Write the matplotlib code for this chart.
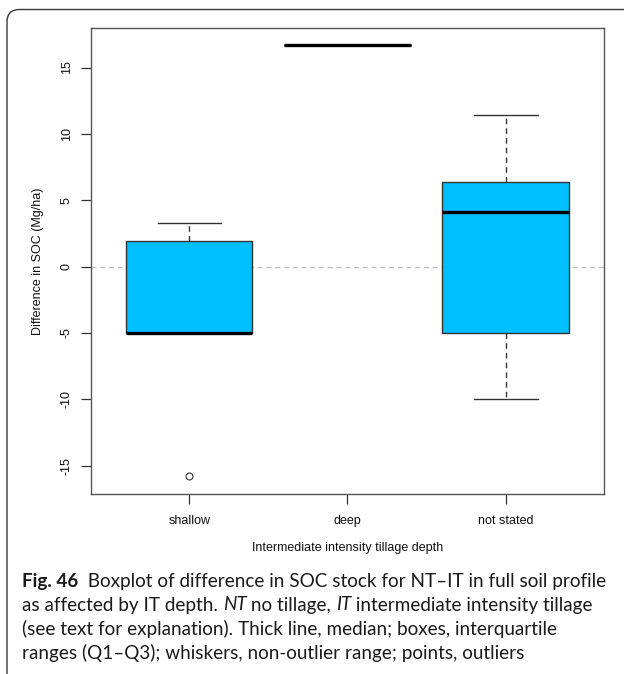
import matplotlib
matplotlib.use("Agg")
import matplotlib.pyplot as plt
from matplotlib.patches import FancyBboxPatch

# ---- data ----
categories = ["shallow", "deep", "not stated"]
q1 = [-5.0, 16.7, -5.0]
median = [-5.0, 16.7, 4.15]
q3 = [1.95, 16.7, 6.35]
whisker_low = [-5.0, 16.7, -10.0]
whisker_high = [3.25, 16.7, 11.4]
outliers = [[-15.8], [], []]
yticks = [-15, -10, -5, 0, 5, 10, 15]
ylabel = "Difference in SOC (Mg/ha)"
xlabel = "Intermediate intensity tillage depth"

W, H = 624, 674
fig = plt.figure(figsize=(W / 100, H / 100), dpi=100)

def fx(px):
    return px / W

def fy(py):
    return 1 - py / H

# rounded frame (only top-left visible)
frame = FancyBboxPatch((fx(7), fy(700)), fx(700), fy(9.5) - fy(700),
                       boxstyle="round,pad=0,rounding_size=0.02",
                       transform=fig.transFigure, fill=False,
                       edgecolor="#3a3a3a", lw=1.0, mutation_aspect=W / H)
fig.patches.append(frame)

ax = fig.add_axes([fx(91), fy(494), fx(604) - fx(91), fy(28) - fy(494)])

stats = []
for i, c in enumerate(categories):
    stats.append(dict(label=c, q1=q1[i], med=median[i], q3=q3[i],
                      whislo=whisker_low[i], whishi=whisker_high[i],
                      fliers=outliers[i]))

ax.axhline(0, color="#bbbbbb", lw=0.9, ls=(0, (4, 3)), zorder=0)

positions = list(range(1, len(categories) + 1))
ax.bxp(stats, positions=positions, widths=0.8, patch_artist=True,
       showfliers=True,
       boxprops=dict(facecolor="#00BFFF", edgecolor="#333333", lw=1.0),
       medianprops=dict(color="black", lw=2.4, solid_capstyle="butt"),
       whiskerprops=dict(color="#333333", lw=1.0, ls=(0, (4, 3))),
       capprops=dict(color="#333333", lw=1.0),
       capwidths=0.4,
       flierprops=dict(marker="o", markersize=5, markerfacecolor="none",
                       markeredgecolor="#333333", markeredgewidth=0.8))

ax.set_xlim(0.38, 3.62)
ax.set_ylim(-17.14, 17.98)
ax.set_yticks(yticks)
ax.set_yticklabels([str(t) for t in yticks], rotation=90, va="center")
ax.set_xticks(positions)
ax.set_xticklabels(categories)
for s in ax.spines.values():
    s.set_color("#555555")
    s.set_linewidth(1.0)
ax.tick_params(axis="both", length=7, width=0.9, color="#333333",
               labelsize=9, labelcolor="#111111", pad=6)
ax.tick_params(axis="x", pad=8)
for lab in ax.get_xticklabels() + ax.get_yticklabels():
    lab.set_fontfamily("Liberation Sans")

fig.text(fx(38), fy(261), ylabel, rotation=90, ha="center", va="center",
         fontsize=9, family="Liberation Sans", color="#111111")
fig.text(fx(348), fy(548), xlabel, ha="center", va="center",
         fontsize=9, family="Liberation Sans", color="#111111")

# ---- caption ----
cap_font = "Lato"
cap_size = 13.6
cap_lines = [
    [("Fig. 46", "bold", "normal"), ("  Boxplot of difference in SOC stock for NT\u2013IT in full soil profile", "normal", "normal")],
    [("as affected by IT depth. ", "normal", "normal"), ("NT", "normal", "italic"),
     (" no tillage, ", "normal", "normal"), ("IT", "normal", "italic"),
     (" intermediate intensity tillage", "normal", "normal")],
    [("(see text for explanation). Thick line, median; boxes, interquartile", "normal", "normal")],
    [("ranges (Q1\u2013Q3); whiskers, non-outlier range; points, outliers", "normal", "normal")],
]
line_y = [581, 605, 629, 653]

renderer = fig.canvas.get_renderer()

def run_width(s, weight, style):
    t1 = fig.text(0, 0, s + "|", fontsize=cap_size, family=cap_font,
                  weight=weight, style=style)
    t2 = fig.text(0, 0, "|", fontsize=cap_size, family=cap_font,
                  weight=weight, style=style)
    w = t1.get_window_extent(renderer).width - t2.get_window_extent(renderer).width
    t1.remove()
    t2.remove()
    return w

for runs, y in zip(cap_lines, line_y):
    x = 22.0
    for s, weight, style in runs:
        fig.text(fx(x), fy(y), s, fontsize=cap_size, family=cap_font,
                 weight=weight, style=style, va="center", ha="left",
                 color="#1a1a1a")
        x += run_width(s, weight, style)

fig.savefig("out.png", dpi=100)
